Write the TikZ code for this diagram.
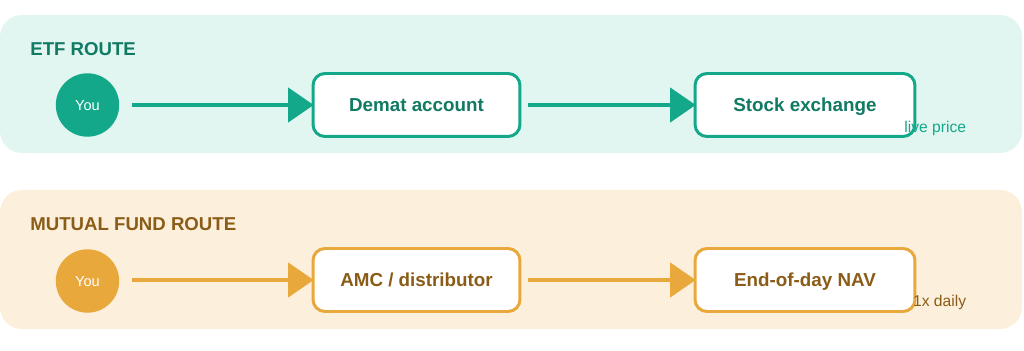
\documentclass[tikz,border=0pt]{standalone}
\usepackage{fontspec}
\setmainfont{Liberation Sans}
\usepackage{xcolor}
\usetikzlibrary{arrows.meta,positioning,calc}
\definecolor{etfmain}{HTML}{14A88A}
\definecolor{etfdark}{HTML}{117A63}
\definecolor{etflight}{HTML}{E1F6F1}
\definecolor{mfmain}{HTML}{E8A83C}
\definecolor{mfdark}{HTML}{8A5C17}
\definecolor{mflight}{HTML}{FCF0DC}

\begin{document}
\begin{tikzpicture}[
    x=0.02cm,y=-0.02cm,
    panel/.style = {rounded corners=12.5pt,draw=none},
    head/.style  = {font=\fontsize{10.6}{12}\selectfont\bfseries,anchor=base west,inner sep=0pt},
    you/.style   = {circle,draw=none,minimum size=1.268cm,inner sep=0pt,text=white,
                    text height=6pt,text depth=0pt,font=\fontsize{8.3}{10}\selectfont},
    box/.style   = {rectangle,rounded corners=6.8pt,line width=1.7pt,fill=white,
                    minimum height=1.26cm,inner sep=0pt,text height=7.4pt,text depth=0pt,
                    font=\fontsize{10.7}{13}\selectfont\bfseries},
    fl/.style    = {-{Triangle[length=14.5pt,width=19.5pt]},line width=1.9pt,shorten >=-1.2pt},
    note/.style  = {font=\fontsize{8.9}{10}\selectfont,anchor=base east,inner sep=0pt},
  ]
  \useasboundingbox (0,0) rectangle (1024,351);

  % ETF route
  \fill[panel,etflight] (0,15) rectangle (1022,153);
  \node[head,text=etfdark] (etfhead) at (30,56) {ETF ROUTE};
  \node[you,fill=etfmain] (etfyou) at (87.5,105) {You};
  \node[box,draw=etfmain,text=etfdark,minimum width=4.14cm] (demat) at (416.5,105) {Demat account};
  \node[box,draw=etfmain,text=etfdark,minimum width=4.4cm]  (stock) at (805,105)   {Stock exchange};
  \node[note,text=etfmain] (live) at ($(stock.south east)+(50,-5.5)$) {live price};

  % Mutual fund route
  \fill[panel,mflight] (0,190) rectangle (1022,329);
  \node[head,text=mfdark] (mfhead) at (30,231) {MUTUAL FUND ROUTE};
  \node[you,fill=mfmain] (mfyou) at (87.5,281) {You};
  \node[box,draw=mfmain,text=mfdark,minimum width=4.14cm] (amc) at (416.5,280) {AMC / distributor};
  \node[box,draw=mfmain,text=mfdark,minimum width=4.4cm]  (nav) at (805,280)   {End-of-day NAV};
  \node[note,text=mfdark] (daily) at ($(nav.south east)+(50,-6)$) {1x daily};

  \foreach \a/\b/\s in {etfyou/demat/7.2pt,demat/stock/3.8pt}
    \draw[fl,etfmain,shorten <=\s] (\a) -- (\b);
  \foreach \a/\b/\s in {mfyou/amc/7.2pt,amc/nav/3.8pt}
    \draw[fl,mfmain,shorten <=\s] (\a.east |- \b) -- (\b);

\end{tikzpicture}
\end{document}
